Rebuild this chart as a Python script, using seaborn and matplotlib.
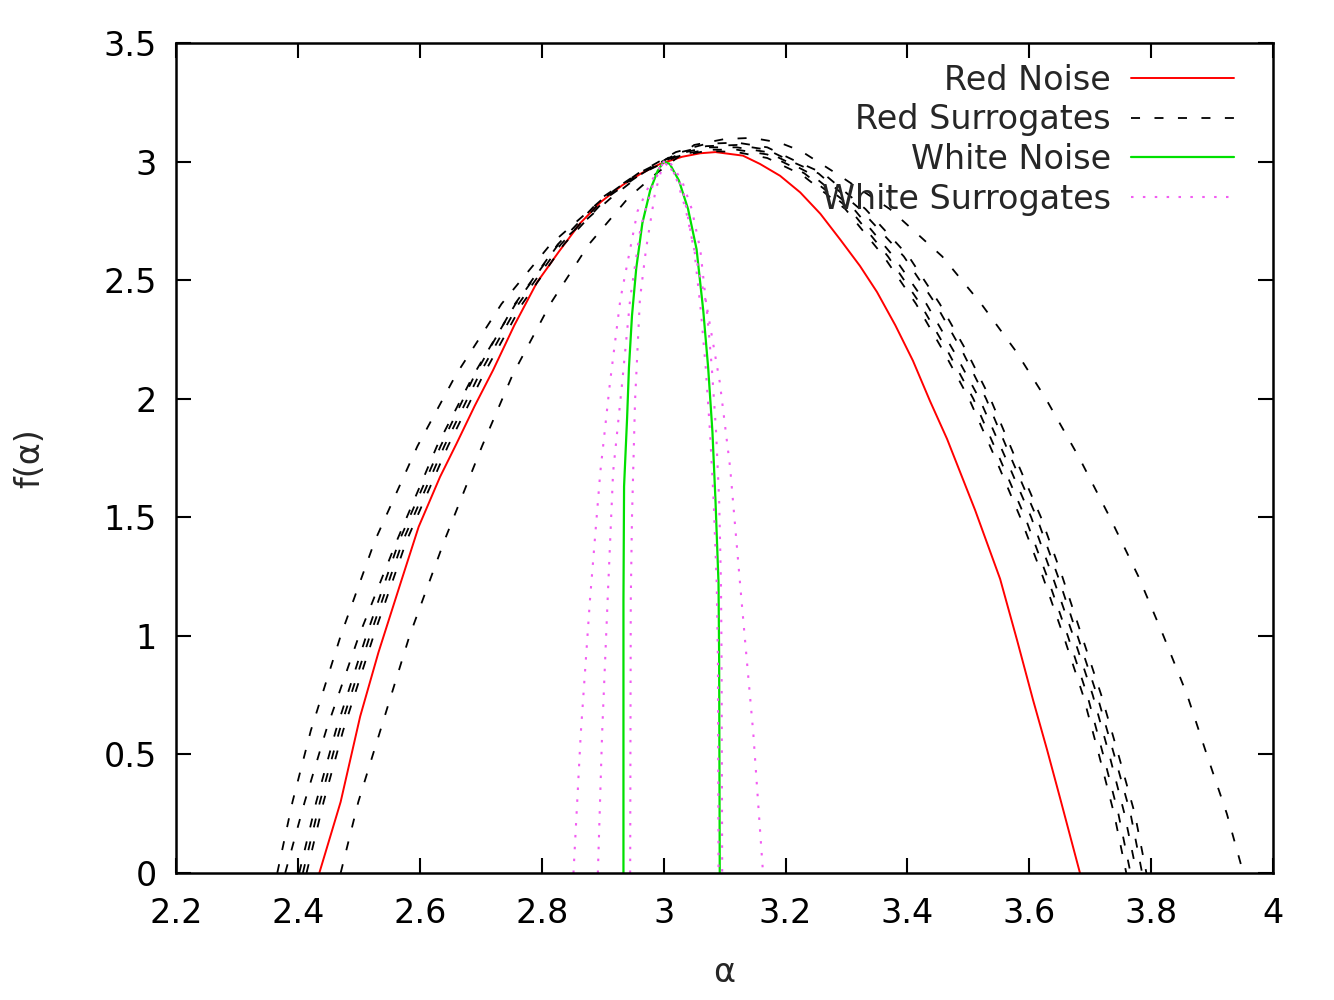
import matplotlib
matplotlib.use('Agg')
import matplotlib.pyplot as plt
from matplotlib.lines import Line2D
from matplotlib.ticker import FormatStrFormatter
import seaborn as sns

# 坐标轴刻度
X_TICKS = [2.2, 2.4, 2.6, 2.8, 3.0, 3.2, 3.4, 3.6, 3.8, 4.0]
Y_TICKS = [0, 0.5, 1, 1.5, 2, 2.5, 3, 3.5]

# Red Noise
red_alpha = [2.435, 2.470, 2.502, 2.532, 2.568, 2.598, 2.633, 2.660, 2.690, 2.720, 2.755,
             2.792, 2.828, 2.863, 2.897, 2.932, 2.963, 2.994, 3.030, 3.060, 3.085, 3.130,
             3.158, 3.191, 3.224, 3.257, 3.290, 3.322, 3.350, 3.380, 3.409, 3.437, 3.465,
             3.511, 3.552, 3.580, 3.606, 3.629, 3.651, 3.683]
red_f = [0.0, 0.30, 0.66, 0.93, 1.22, 1.46, 1.67, 1.81, 1.97, 2.12, 2.31,
         2.49, 2.62, 2.74, 2.83, 2.90, 2.95, 2.99, 3.02, 3.035, 3.04, 3.025,
         2.99, 2.94, 2.87, 2.78, 2.67, 2.56, 2.45, 2.31, 2.16, 1.99, 1.83,
         1.53, 1.24, 0.98, 0.73, 0.52, 0.31, 0.0]

# Red Surrogates: 左支 / 峰值 / 右支
surr_left_f = [0.0, 0.3, 0.6, 1.0, 1.4, 1.8, 2.1, 2.4, 2.65, 2.85, 2.95]
surr_right_f = [2.95, 2.8, 2.6, 2.4, 2.2, 2.0, 1.75, 1.5, 1.25, 1.0, 0.75, 0.5, 0.25, 0.0]
surr_left_alpha = [
    [2.366, 2.391, 2.421, 2.470, 2.526, 2.596, 2.659, 2.734, 2.814, 2.903, 2.958],
    [2.379, 2.411, 2.446, 2.500, 2.562, 2.628, 2.688, 2.757, 2.827, 2.915, 2.965],
    [2.402, 2.430, 2.462, 2.512, 2.566, 2.634, 2.690, 2.756, 2.826, 2.900, 2.958],
    [2.408, 2.436, 2.468, 2.518, 2.572, 2.640, 2.697, 2.762, 2.831, 2.904, 2.961],
    [2.414, 2.442, 2.474, 2.524, 2.578, 2.646, 2.704, 2.768, 2.836, 2.908, 2.964],
    [2.470, 2.499, 2.535, 2.583, 2.640, 2.702, 2.752, 2.814, 2.877, 2.943, 2.988],
]
surr_peak_alpha = [
    [3.02, 3.07, 3.12, 3.17, 3.21],
    [3.02, 3.07, 3.12, 3.17, 3.21],
    [3.02, 3.07, 3.12, 3.17, 3.21],
    [3.02, 3.07, 3.12, 3.17, 3.21],
    [3.02, 3.07, 3.12, 3.17, 3.21],
    [3.05, 3.10, 3.145, 3.19, 3.225],
]
surr_peak_f = [
    [3.04, 3.075, 3.08, 3.06, 3.01],
    [3.035, 3.065, 3.07, 3.05, 3.00],
    [3.03, 3.06, 3.06, 3.04, 2.99],
    [3.025, 3.05, 3.05, 3.03, 2.98],
    [3.02, 3.045, 3.04, 3.015, 2.965],
    [3.07, 3.095, 3.10, 3.08, 3.045],
]
surr_right_alpha = [
    [3.262, 3.331, 3.402, 3.453, 3.497, 3.536, 3.577, 3.619, 3.654, 3.686, 3.718, 3.746, 3.773, 3.792],
    [3.254, 3.322, 3.394, 3.446, 3.490, 3.529, 3.570, 3.612, 3.647, 3.679, 3.711, 3.739, 3.766, 3.785],
    [3.240, 3.312, 3.377, 3.431, 3.476, 3.518, 3.561, 3.603, 3.638, 3.672, 3.704, 3.731, 3.756, 3.776],
    [3.231, 3.305, 3.368, 3.421, 3.466, 3.508, 3.551, 3.593, 3.629, 3.663, 3.695, 3.721, 3.746, 3.766],
    [3.224, 3.298, 3.361, 3.414, 3.459, 3.501, 3.544, 3.585, 3.622, 3.656, 3.688, 3.714, 3.739, 3.759],
    [3.283, 3.371, 3.457, 3.521, 3.578, 3.627, 3.682, 3.732, 3.779, 3.820, 3.859, 3.891, 3.924, 3.951],
]

# White Noise
white_alpha = [2.934, 2.934, 2.935, 2.940, 2.943, 2.948, 2.955, 2.965, 2.978, 2.990, 3.000,
               3.010, 3.025, 3.040, 3.054, 3.065, 3.073, 3.080, 3.085, 3.090, 3.091, 3.092]
white_f = [0.0, 1.15, 1.63, 1.92, 2.13, 2.35, 2.55, 2.74, 2.88, 2.96, 3.0,
           2.99, 2.92, 2.80, 2.63, 2.37, 2.13, 1.86, 1.57, 1.22, 0.90, 0.0]

# White Surrogates
wsurr_alpha = [
    [2.852, 2.864, 2.879, 2.896, 2.912, 2.929, 2.957, 2.978, 3.000, 3.015, 3.031, 3.048,
     3.070, 3.092, 3.109, 3.127, 3.147, 3.163],
    [2.892, 2.899, 2.908, 2.917, 2.932, 2.945, 2.962, 2.982, 3.000, 3.012, 3.030, 3.046,
     3.060, 3.071, 3.079, 3.086, 3.091, 3.094, 3.095, 3.096],
    [2.945, 2.946, 2.948, 2.953, 2.961, 2.971, 2.986, 3.000, 3.008, 3.022, 3.036, 3.050,
     3.061, 3.069, 3.076, 3.082, 3.087, 3.089, 3.090],
]
wsurr_f = [
    [0.0, 0.59, 1.15, 1.69, 2.07, 2.42, 2.79, 2.91, 3.00, 2.96, 2.89, 2.65,
     2.40, 2.07, 1.71, 1.17, 0.59, 0.0],
    [0.0, 0.59, 1.15, 1.69, 2.07, 2.42, 2.72, 2.90, 3.00, 2.99, 2.92, 2.80,
     2.63, 2.37, 2.13, 1.86, 1.57, 1.22, 0.90, 0.0],
    [0.0, 1.15, 1.50, 1.99, 2.42, 2.63, 2.87, 3.00, 2.99, 2.92, 2.80, 2.63,
     2.37, 2.13, 1.86, 1.57, 1.22, 0.90, 0.0],
]

legend_labels = ['Red Noise', 'Red Surrogates', 'White Noise', 'White Surrogates']

RED = '#ff0000'
GREEN = '#00e000'
MAGENTA = '#f25cf2'
DASH = (0, (5, 8))
DOT = (0, (1.2, 4.5))

sns.set_style('ticks')
plt.rcParams['font.family'] = ['DejaVu Sans']

fig = plt.figure(figsize=(13.34, 10), dpi=100)
ax = fig.add_axes([0.132, 0.127, 0.8224, 0.830])

sns.lineplot(x=red_alpha, y=red_f, sort=False, estimator=None, color=RED, linewidth=1.4, ax=ax)

for i in range(len(surr_left_alpha)):
    a = surr_left_alpha[i] + surr_peak_alpha[i] + surr_right_alpha[i]
    f = surr_left_f + surr_peak_f[i] + surr_right_f
    sns.lineplot(x=a, y=f, sort=False, estimator=None, color='black',
                 linewidth=1.3, linestyle=DASH, ax=ax)

sns.lineplot(x=white_alpha, y=white_f, sort=False, estimator=None, color=GREEN, linewidth=1.6, ax=ax)

for a, f in zip(wsurr_alpha, wsurr_f):
    sns.lineplot(x=a, y=f, sort=False, estimator=None, color=MAGENTA,
                 linewidth=1.5, linestyle=DOT, ax=ax)

ax.set_xlim(2.2, 4.0)
ax.set_ylim(0, 3.5)
ax.set_xticks(X_TICKS)
ax.set_yticks(Y_TICKS)
ax.xaxis.set_major_formatter(FormatStrFormatter('%g'))
ax.yaxis.set_major_formatter(FormatStrFormatter('%g'))
ax.tick_params(direction='in', length=11, width=1.5, top=True, right=True,
               labelsize=24, colors='black')
ax.tick_params(axis='x', pad=17)
ax.tick_params(axis='y', pad=14)
for sp in ax.spines.values():
    sp.set_linewidth(1.8)
    sp.set_color('black')

ax.set_xlabel('α', fontsize=24)
ax.set_ylabel('f(α)', fontsize=24)
ax.xaxis.set_label_coords(0.4995, -0.1)
ax.yaxis.set_label_coords(-0.118, 0.5)

handles = [
    Line2D([], [], color=RED, linewidth=1.4),
    Line2D([], [], color='black', linewidth=1.3, linestyle=DASH),
    Line2D([], [], color=GREEN, linewidth=1.6),
    Line2D([], [], color=MAGENTA, linewidth=1.5, linestyle=DOT),
]
ax.legend(handles, legend_labels, loc='upper right', bbox_to_anchor=(0.9645, 0.975),
          frameon=False, markerfirst=False, fontsize=24, handlelength=3.1,
          handletextpad=0.6, labelspacing=0.2, borderaxespad=0, borderpad=0)

fig.savefig('out.png', dpi=100)
